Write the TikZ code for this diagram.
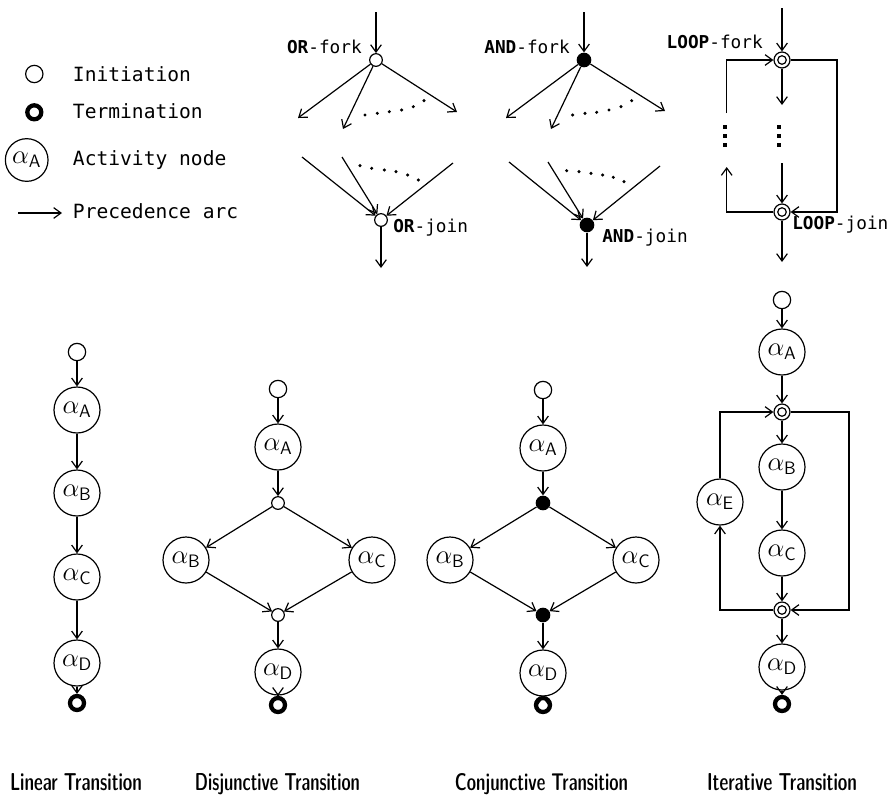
\documentclass[tikz,border=0pt]{standalone}
\usepackage{fix-cm}
\usepackage{fontspec}
\setmonofont{DejaVu Sans Mono}
\usepackage{graphicx}
\usetikzlibrary{arrows.meta}
\tikzset{
 conn/.style={line width=0.9pt, -{Straight Barb[length=5.5pt,width=8pt]}},
 plain/.style={line width=0.9pt},
 initn/.style={circle,draw,line width=0.9pt,minimum size=13pt,inner sep=0pt},
 termn/.style={circle,draw,line width=3.2pt,minimum size=10.5pt,inner sep=0pt},
 actn/.style={circle,draw,line width=0.9pt,minimum size=34.5pt,inner sep=0pt,font=\fontsize{20}{22}\selectfont},
 orn/.style={circle,draw,line width=0.9pt,minimum size=9.5pt,inner sep=0pt},
 andn/.style={circle,fill,minimum size=11pt,inner sep=0pt},
 loopn/.style={circle,draw,line width=0.9pt,minimum size=12pt,inner sep=0pt,
   path picture={\draw[line width=0.9pt] (path picture bounding box.center) circle (3.2pt);}},
 lbl/.style={inner sep=0pt,font=\ttfamily\fontsize{13.3}{16}\selectfont},
 leg/.style={inner sep=0pt,anchor=base west,font=\ttfamily\fontsize{14.7}{17}\selectfont},
 ttl/.style={inner sep=0pt,anchor=base},
}
\newcommand\act[1]{$\alpha_{\hbox{\fontsize{13.5}{14}\sffamily #1}}$}
\newcommand\trl[2]{\resizebox{#1}{12.75pt}{\sffamily\fontseries{sbc}\selectfont #2}}
\begin{document}
\begin{tikzpicture}[x=0.75pt,y=-0.75pt]
\useasboundingbox (0,0) rectangle (892,794);

% ---------------- legend
\node[initn] (li) at (34.3,74) {};
\node[termn] (lt) at (34.3,112.3) {};
\node[actn,minimum size=32pt] (la) at (26.7,160) {\act{A}};
\coordinate (lp1) at (18,213);
\coordinate (lp2) at (62,213);
\draw[conn] (lp1) -- (lp2);
\node[leg] (tli) at (72.7,81.5) {Initiation};
\node[leg] (tlt) at (72.7,118) {Termination};
\node[leg] (tla) at (72.7,165) {Activity node};
\node[leg] (tlp) at (72.7,218) {Precedence arc};

% ---------------- OR fork / join
\coordinate (orin) at (376,12);
\node[orn] (orf) at (376,60) {};
\draw[conn] (orin) -- (orf);
\node[lbl,anchor=base east] (torf) at (362,53) {\textbf{OR}-fork};
\coordinate (ore1) at (298,118);
\coordinate (ore2) at (343,129);
\coordinate (ore3) at (457,112);
\draw[conn] (orf) -- (ore1);
\draw[conn] (orf) -- (ore2);
\draw[conn] (orf) -- (ore3);
\foreach \p in {(365,115),(377.3,113.3),(389.3,111.7),(401.7,110),(413.3,106.7),(424,100.7)}
  \fill \p circle (1.3pt);
\node[orn] (orj) at (381,220) {};
\coordinate (ors1) at (302,157);
\coordinate (ors2) at (342,157);
\coordinate (ors3) at (453,163);
\draw[conn] (ors1) -- (orj);
\draw[conn] (ors2) -- (orj);
\draw[conn] (ors3) -- (orj);
\foreach \p in {(360,165.7),(371.7,168.3),(384.3,170),(396,171.7),(407.7,175),(418.3,180)}
  \fill \p circle (1.3pt);
\coordinate (orout) at (381,268);
\draw[conn] (orj) -- (orout);
\node[lbl,anchor=base west] (torj) at (393,232) {\textbf{OR}-join};

% ---------------- AND fork / join
\coordinate (andin) at (584,12);
\node[andn] (andf) at (584,60) {};
\draw[conn] (andin) -- (andf);
\node[lbl,anchor=base east] (tandf) at (570,53) {\textbf{AND}-fork};
\coordinate (ande1) at (506,118);
\coordinate (ande2) at (551,129);
\coordinate (ande3) at (665,111);
\draw[conn] (andf) -- (ande1);
\draw[conn] (andf) -- (ande2);
\draw[conn] (andf) -- (ande3);
\foreach \p in {(572.7,115),(585,113.3),(596.7,112.3),(609,110),(621,106.7),(631.7,100.7)}
  \fill \p circle (1.3pt);
\node[andn] (andj) at (587,225) {};
\coordinate (ands1) at (509,162);
\coordinate (ands2) at (548,162);
\coordinate (ands3) at (660,166);
\draw[conn] (ands1) -- (andj);
\draw[conn] (ands2) -- (andj);
\draw[conn] (ands3) -- (andj);
\foreach \p in {(566.7,170.7),(579,171.7),(591,173.3),(602.7,175),(613.3,177.3),(624,181.7)}
  \fill \p circle (1.3pt);
\coordinate (andout) at (587,267);
\draw[conn] (andj) -- (andout);
\node[lbl,anchor=base west] (tandj) at (602,242) {\textbf{AND}-join};

% ---------------- LOOP fork / join
\coordinate (lpin) at (782,8);
\node[loopn] (lpf) at (782,60) {};
\node[loopn] (lpj) at (782,212) {};
\draw[conn] (lpin) -- (lpf);
\node[lbl,anchor=base east] (tlpf) at (763,48) {\textbf{LOOP}-fork};
\node[lbl,anchor=base west] (tlpj) at (792,229) {\textbf{LOOP}-join};
\coordinate (lpd) at (782,105);
\draw[conn] (lpf) -- (lpd);
\coordinate (lpu) at (782,163);
\draw[conn] (lpu) -- (lpj);
\coordinate (lpA) at (726.7,113);
\draw[conn] (lpA) |- (lpf);
\coordinate (lpB) at (726.7,167);
\draw[conn] (lpj) -| (lpB);
\coordinate (lpR) at (837,212);
\draw[conn] (lpf) -| (lpR) -- (lpj);
\coordinate (lpout) at (782,262);
\draw[conn] (lpj) -- (lpout);
\foreach \yy in {127,136,145} {
  \fill (779,\yy) ++(-1.7pt,-1.7pt) rectangle ++(3.4pt,3.4pt);
  \fill (725,\yy) ++(-1.7pt,-1.7pt) rectangle ++(3.4pt,3.4pt);
}

% ---------------- Linear transition
\node[initn] (a0) at (77,352) {};
\node[actn] (aA) at (77,410) {\act{A}};
\node[actn] (aB) at (77,493) {\act{B}};
\node[actn] (aC) at (77,577) {\act{C}};
\node[actn] (aD) at (77,663) {\act{D}};
\node[termn] (aT) at (77,703) {};
\draw[conn] (a0) -- (aA);
\draw[conn] (aA) -- (aB);
\draw[conn] (aB) -- (aC);
\draw[conn] (aC) -- (aD);
\draw[conn] (aD) -- (aT);
\node[ttl] (ta) at (76,790) {\trl{99pt}{Linear Transition}};

% ---------------- Disjunctive transition
\node[initn] (b0) at (278,389) {};
\node[actn] (bA) at (278,447) {\act{A}};
\node[orn] (bo1) at (278,503) {};
\node[actn] (bB) at (186,560) {\act{B}};
\node[actn] (bC) at (372,560) {\act{C}};
\node[orn] (bo2) at (278,615) {};
\node[actn] (bD) at (278,672) {\act{D}};
\node[termn] (bT) at (278,705) {};
\draw[conn] (b0) -- (bA);
\draw[conn] (bA) -- (bo1);
\draw[conn] (bo1) -- (bB);
\draw[conn] (bo1) -- (bC);
\draw[conn] (bB) -- (bo2);
\draw[conn] (bC) -- (bo2);
\draw[conn] (bo2) -- (bD);
\draw[conn] (bD) -- (bT);
\node[ttl] (tb) at (277.5,790) {\trl{123.75pt}{Disjunctive Transition}};

% ---------------- Conjunctive transition
\node[initn] (c0) at (543,390) {};
\node[actn] (cA) at (543,448) {\act{A}};
\node[andn] (ca1) at (543,503) {};
\node[actn] (cB) at (450,560) {\act{B}};
\node[actn] (cC) at (636,560) {\act{C}};
\node[andn] (ca2) at (543,615) {};
\node[actn] (cD) at (543,673) {\act{D}};
\node[termn] (cT) at (543,705) {};
\draw[conn] (c0) -- (cA);
\draw[conn] (cA) -- (ca1);
\draw[conn] (ca1) -- (cB);
\draw[conn] (ca1) -- (cC);
\draw[conn] (cB) -- (ca2);
\draw[conn] (cC) -- (ca2);
\draw[conn] (ca2) -- (cD);
\draw[conn] (cD) -- (cT);
\node[ttl] (tc) at (541.5,790) {\trl{129.75pt}{Conjunctive Transition}};

% ---------------- Iterative transition
\node[initn] (d0) at (782,300) {};
\node[actn] (dA) at (782,352) {\act{A}};
\node[loopn] (dF) at (782,412) {};
\node[actn] (dB) at (782,467) {\act{B}};
\node[actn] (dE) at (720,502) {\act{E}};
\node[actn] (dC) at (782,553) {\act{C}};
\node[loopn] (dJ) at (782,610) {};
\node[actn] (dD) at (782,667) {\act{D}};
\node[termn] (dT) at (782,704) {};
\draw[conn] (d0) -- (dA);
\draw[conn] (dA) -- (dF);
\draw[conn] (dF) -- (dB);
\draw[conn] (dB) -- (dC);
\draw[conn] (dC) -- (dJ);
\draw[conn] (dJ) -- (dD);
\draw[conn] (dD) -- (dT);
\draw[conn] (dE) |- (dF);
\draw[conn] (dJ) -| (dE);
\coordinate (dR) at (849,610);
\draw[conn] (dF) -| (dR) -- (dJ);
\node[ttl] (td) at (782,790) {\trl{112.5pt}{Iterative Transition}};
\end{tikzpicture}
\end{document}
